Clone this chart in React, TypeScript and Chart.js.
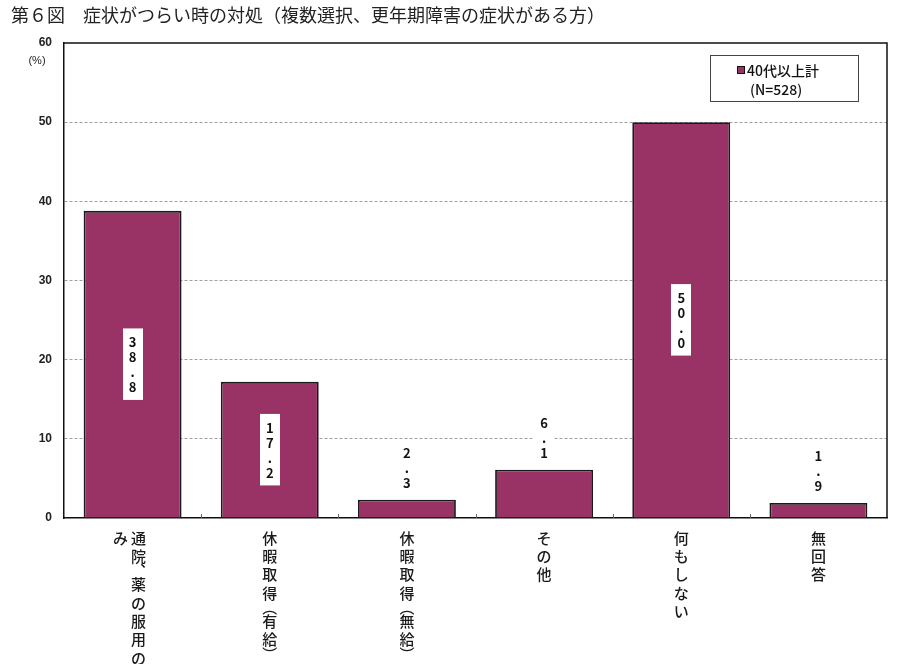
import { useEffect, useRef } from "react";
import { Chart, registerables } from "chart.js";

Chart.register(...registerables);

const titleText = "第６図　症状がつらい時の対処（複数選択、更年期障害の症状がある方）";
const categories = ["通院、薬の服用のみ", "休暇取得（有給）", "休暇取得（無給）", "その他", "何もしない", "無回答"];
const values = [38.8, 17.2, 2.3, 6.1, 50.0, 1.9];
const seriesName = "40代以上計";
const sampleNote = "(N=528)";
const yTicks = [0, 10, 20, 30, 40, 50, 60];
const unitLabel = "(%)";

const BAR_COLOR = "#993366";
const JP = '"Noto Sans CJK JP", "Noto Sans", sans-serif';
const LAT = '"Liberation Sans", Arial, sans-serif';

const verticalMap: Record<string, string> = { "（": "︵", "）": "︶", "、": "︑" };
const narrowChars = new Set(["（", "）", "、"]);

const overlay = {
  id: "overlay",
  afterDatasetsDraw(chart: any) {
    const ctx = chart.ctx as CanvasRenderingContext2D;
    const area = chart.chartArea;
    const xs = chart.scales.x;
    ctx.save();
    // frame top & right
    ctx.strokeStyle = "#111";
    ctx.lineWidth = 1.5;
    ctx.beginPath();
    ctx.moveTo(area.left, area.top);
    ctx.lineTo(area.right, area.top);
    ctx.lineTo(area.right, area.bottom);
    ctx.stroke();
    // inner tick marks at category boundaries
    ctx.strokeStyle = "#666";
    ctx.lineWidth = 1;
    for (let i = 0; i < categories.length - 1; i++) {
      const bx = Math.round((xs.getPixelForValue(i) + xs.getPixelForValue(i + 1)) / 2) + 0.5;
      ctx.beginPath();
      ctx.moveTo(bx, area.bottom - 4);
      ctx.lineTo(bx, area.bottom);
      ctx.stroke();
    }
    // data labels (vertical digits in white box)
    const meta = chart.getDatasetMeta(0);
    const cell = 15;
    const padTop = 6.5;
    const padBot = 5;
    ctx.font = `bold 13px ${JP}`;
    ctx.textAlign = "center";
    ctx.textBaseline = "middle";
    meta.data.forEach((bar: any, i: number) => {
      const chars = values[i].toFixed(1).split("");
      const h = chars.length * cell + padTop + padBot;
      const top = values[i] >= 10 ? (bar.y + bar.base) / 2 - h / 2 : bar.y - 4 - h;
      ctx.fillStyle = "#fff";
      ctx.fillRect(Math.round(bar.x) - 10, top, 20, h);
      ctx.fillStyle = "#111";
      chars.forEach((c: string, k: number) => {
        ctx.fillText(c, bar.x, top + padTop + cell * k + cell / 2);
      });
    });
    ctx.restore();
  },
  afterDraw(chart: any) {
    const ctx = chart.ctx as CanvasRenderingContext2D;
    const area = chart.chartArea;
    const xs = chart.scales.x;
    ctx.save();
    // title
    ctx.fillStyle = "#222";
    ctx.font = `18px ${JP}`;
    ctx.textAlign = "left";
    ctx.textBaseline = "middle";
    ctx.fillText(titleText, 11, 15);
    // unit label
    ctx.font = `11px ${LAT}`;
    ctx.fillStyle = "#222";
    ctx.textAlign = "center";
    ctx.fillText(unitLabel, 37, 61);
    // vertical category labels
    ctx.font = `500 15px ${JP}`;
    ctx.fillStyle = "#1a1a1a";
    ctx.textAlign = "center";
    ctx.textBaseline = "middle";
    const full = 18.3;
    const narrow = 10;
    const perCol = 8;
    const colGap = 18;
    categories.forEach((lab, i) => {
      const chars = Array.from(lab);
      const cols: string[][] = [];
      for (let k = 0; k < chars.length; k += perCol) cols.push(chars.slice(k, k + perCol));
      const cx = xs.getPixelForValue(i) - (cols.length > 1 ? 3 : 0);
      cols.forEach((col, ci) => {
        const x = cx + ((cols.length - 1) / 2 - ci) * colGap;
        let y = area.bottom + 11;
        col.forEach((c) => {
          const step = narrowChars.has(c) ? narrow : full;
          ctx.fillText(verticalMap[c] || c, x, y + step / 2);
          y += step;
        });
      });
    });
    // legend
    const ds = chart.data.datasets[0];
    ctx.strokeStyle = "#444";
    ctx.lineWidth = 1;
    ctx.fillStyle = "#fff";
    ctx.fillRect(710, 55, 148, 46);
    ctx.strokeRect(710.5, 55.5, 148, 46);
    ctx.fillStyle = ds.backgroundColor;
    ctx.fillRect(737, 66, 8, 8);
    ctx.strokeStyle = "#111";
    ctx.strokeRect(737.5, 66.5, 7, 7);
    ctx.fillStyle = "#111";
    ctx.textAlign = "left";
    ctx.font = `500 14px ${JP}`;
    ctx.fillText(ds.label, 747, 71);
    ctx.fillText(sampleNote, 750, 90);
    ctx.restore();
  },
};

export default function App() {
  const ref = useRef<HTMLCanvasElement | null>(null);
  useEffect(() => {
    document.body.style.margin = "0";
    if (!ref.current) return;
    const chart = new Chart(ref.current, {
      type: "bar",
      data: {
        labels: categories,
        datasets: [
          {
            label: seriesName,
            data: values,
            backgroundColor: BAR_COLOR,
            borderColor: "#1a1a1a",
            borderWidth: 1.8,
            barPercentage: 0.714,
            categoryPercentage: 1,
          },
        ],
      },
      options: {
        animation: false,
        responsive: false,
        layout: { padding: { left: 0, top: 43, right: 16, bottom: 146 } },
        plugins: { legend: { display: false }, title: { display: false }, tooltip: { enabled: false } },
        scales: {
          x: {
            offset: true,
            grid: { display: false, drawTicks: false },
            ticks: { display: false },
            border: { display: true, color: "#111", width: 1.5 },
            afterFit: (s: any) => {
              s.height = 0;
            },
          },
          y: {
            min: 0,
            max: 60,
            afterBuildTicks: (s: any) => {
              s.ticks = yTicks.map((v) => ({ value: v }));
            },
            grid: {
              drawTicks: false,
              color: (c: any) => (c.tick && (c.tick.value === 0 || c.tick.value === 60) ? "rgba(0,0,0,0)" : "#a0a0a0"),
              lineWidth: 1,
            },
            border: { display: true, color: "#111", width: 1.5, dash: [3, 2] },
            ticks: { padding: 12, color: "#222", font: { family: LAT, size: 12, weight: "bold" } },
            afterFit: (s: any) => {
              s.width = 64;
            },
          },
        },
      },
      plugins: [overlay],
    });
    return () => chart.destroy();
  }, []);
  return (
    <div style={{ width: 903, height: 664 }}>
      <canvas ref={ref} width={903} height={664} style={{ display: "block" }} />
    </div>
  );
}
